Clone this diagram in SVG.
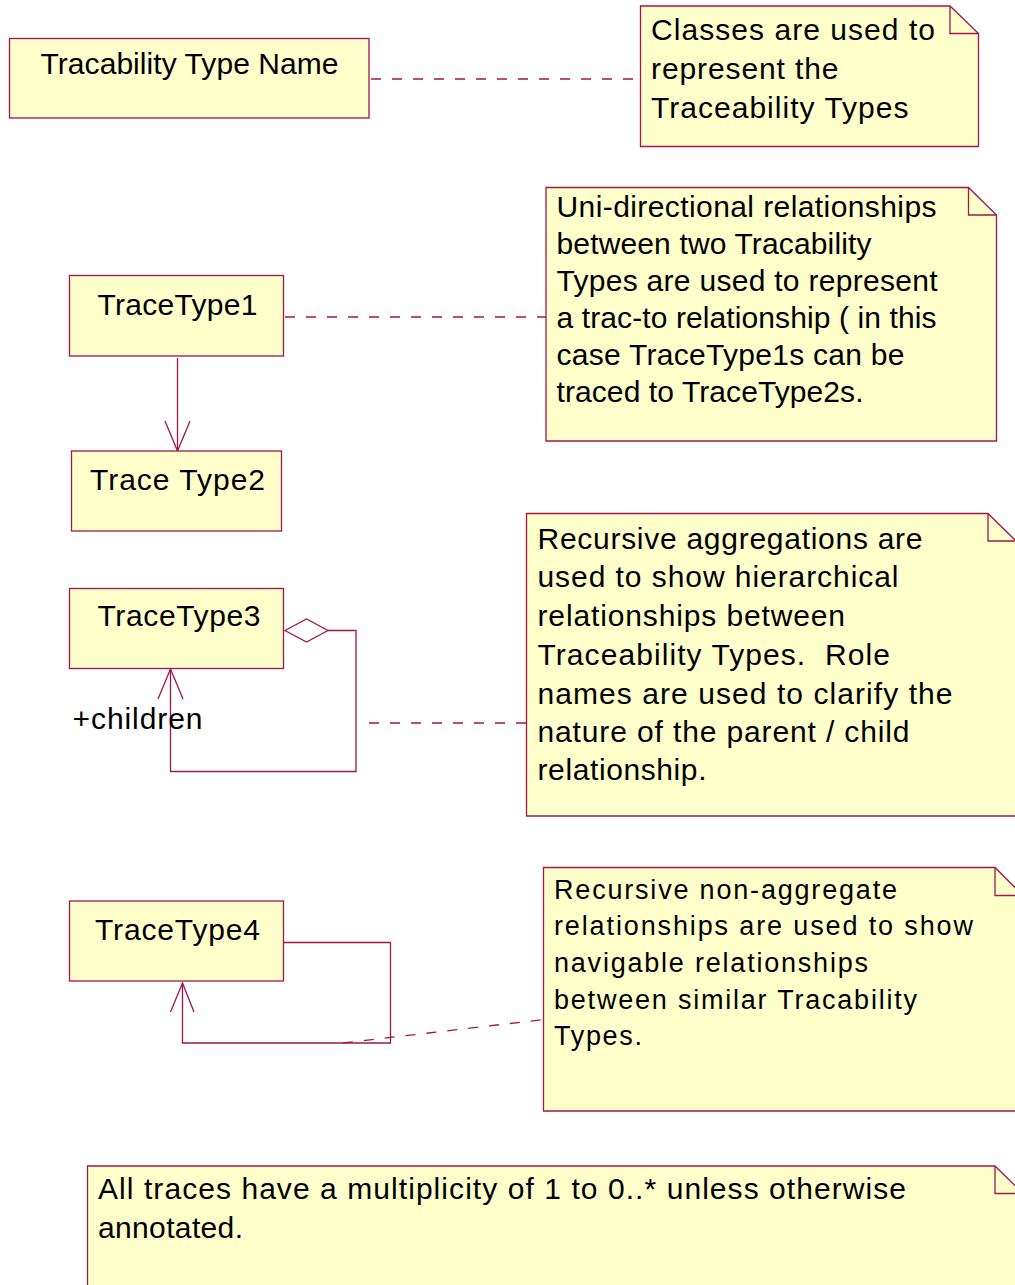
<svg xmlns="http://www.w3.org/2000/svg" width="1015" height="1285" viewBox="0 0 1015 1285">
<style>
.box{fill:#FFFFCC;stroke:#A3164B;stroke-width:1.3}
.fold{fill:none;stroke:#A3164B;stroke-width:1.3}
.t{font-family:"Liberation Sans",Arial,sans-serif;font-size:30px;fill:#000}
.s{font-size:27px}
.ln{fill:none;stroke:#A3164B;stroke-width:1.3}
.dash{fill:none;stroke:#A3164B;stroke-width:1.3;stroke-dasharray:10 11}
</style>
<rect width="1015" height="1285" fill="#FFFFFF"/>

<g id="connectors">
  <line class="dash" x1="371" y1="79" x2="640" y2="79"/>
  <line class="dash" x1="285" y1="317" x2="546" y2="317"/>
  <line class="dash" x1="526" y1="723" x2="360" y2="723"/>
  <line class="dash" x1="343" y1="1043" x2="544" y2="1019.5"/>
  <!-- TraceType1 -> TraceType2 -->
  <line class="ln" x1="177.5" y1="358" x2="177.5" y2="451"/>
  <polyline class="ln" points="165,421 177.5,451 190,421"/>
  <!-- TraceType3 recursive aggregation -->
  <polygon class="ln" fill="#FFFFFF" points="285,630.5 306.5,619 328,630.5 306.5,642"/>
  <polyline class="ln" points="328,630.5 356,630.5 356,771.5 170.5,771.5 170.5,669"/>
  <polyline class="ln" points="158,699 170.5,669 183,699"/>
  <!-- TraceType4 recursive association -->
  <polyline class="ln" points="284,942.5 390.5,942.5 390.5,1043 182.5,1043 182.5,983"/>
  <polyline class="ln" points="170.5,1012 182.5,983 194,1012"/>
</g>

<g id="tracability-type-name">
  <rect class="box" x="9.5" y="38.5" width="359.5" height="79.5"/>
  <text class="t" x="40.5" y="74" textLength="298" lengthAdjust="spacing">Tracability Type Name</text>
</g>

<g id="note-classes">
  <path class="box" d="M640.5,6 H950 L978.5,33.5 V146.5 H640.5 Z"/>
  <path class="fold" d="M950,6 V33.5 H978.5"/>
  <text class="t" x="651" y="40" textLength="284" lengthAdjust="spacing">Classes are used to</text>
  <text class="t" x="651" y="79" textLength="187.5" lengthAdjust="spacing">represent the</text>
  <text class="t" x="651" y="118" textLength="257.5" lengthAdjust="spacing">Traceability Types</text>
</g>

<g id="tracetype1">
  <rect class="box" x="69.5" y="275.5" width="214" height="80.5"/>
  <text class="t" x="97.5" y="315" textLength="160" lengthAdjust="spacing">TraceType1</text>
</g>

<g id="note-unidirectional">
  <path class="box" d="M546,187.5 H968.5 L996.5,215 V441 H546 Z"/>
  <path class="fold" d="M968.5,187.5 V215 H996.5"/>
  <text class="t" x="556.5" y="217" textLength="380" lengthAdjust="spacing">Uni-directional relationships</text>
  <text class="t" x="556.5" y="254" textLength="315" lengthAdjust="spacing">between two Tracability</text>
  <text class="t" x="556.5" y="291" textLength="381" lengthAdjust="spacing">Types are used to represent</text>
  <text class="t" x="556.5" y="328" textLength="380" lengthAdjust="spacing">a trac-to relationship ( in this</text>
  <text class="t" x="556.5" y="365" textLength="348" lengthAdjust="spacing">case TraceType1s can be</text>
  <text class="t" x="556.5" y="402" textLength="307" lengthAdjust="spacing">traced to TraceType2s.</text>
</g>

<g id="tracetype2">
  <rect class="box" x="71.5" y="451" width="210" height="80"/>
  <text class="t" x="90" y="490" textLength="175" lengthAdjust="spacing">Trace Type2</text>
</g>

<g id="tracetype3">
  <rect class="box" x="69.5" y="588.5" width="214" height="80"/>
  <text class="t" x="97.5" y="626" textLength="163" lengthAdjust="spacing">TraceType3</text>
  <text class="t" x="72.5" y="729" textLength="130" lengthAdjust="spacing">+children</text>
</g>

<g id="note-recursive-aggregation">
  <path class="box" d="M526.5,513.5 H988 L1016,541 V816 H526.5 Z"/>
  <path class="fold" d="M988,513.5 V541 H1016"/>
  <text class="t" x="537.5" y="548.5" textLength="385" lengthAdjust="spacing">Recursive aggregations are</text>
  <text class="t" x="537.5" y="587" textLength="361" lengthAdjust="spacing">used to show hierarchical</text>
  <text class="t" x="537.5" y="626" textLength="307.5" lengthAdjust="spacing">relationships between</text>
  <text class="t" x="537.5" y="665" textLength="352.5" lengthAdjust="spacing" xml:space="preserve">Traceability Types.  Role</text>
  <text class="t" x="537.5" y="703.5" textLength="415" lengthAdjust="spacing">names are used to clarify the</text>
  <text class="t" x="537.5" y="742" textLength="372" lengthAdjust="spacing">nature of the parent / child</text>
  <text class="t" x="537.5" y="780" textLength="169" lengthAdjust="spacing">relationship.</text>
</g>

<g id="tracetype4">
  <rect class="box" x="69.5" y="901" width="214" height="80"/>
  <text class="t" x="95" y="940" textLength="165" lengthAdjust="spacing">TraceType4</text>
</g>

<g id="note-recursive-nonaggregate">
  <path class="box" d="M543.5,867.5 H995 L1023,895.5 V1111 H543.5 Z"/>
  <path class="fold" d="M995,867.5 V895.5 H1023"/>
  <text class="t s" x="554" y="898.5" textLength="343" lengthAdjust="spacing">Recursive non-aggregate</text>
  <text class="t s" x="554" y="935" textLength="419" lengthAdjust="spacing">relationships are used to show</text>
  <text class="t s" x="554" y="972" textLength="314" lengthAdjust="spacing">navigable relationships</text>
  <text class="t s" x="554" y="1008.5" textLength="363" lengthAdjust="spacing">between similar Tracability</text>
  <text class="t s" x="554" y="1045" textLength="88" lengthAdjust="spacing">Types.</text>
</g>

<g id="note-multiplicity">
  <path class="box" d="M87.5,1166 H995 L1023,1193.5 V1300 H87.5 Z"/>
  <path class="fold" d="M995,1166 V1193.5 H1023"/>
  <text class="t" x="98" y="1199" textLength="808" lengthAdjust="spacing">All traces have a multiplicity of 1 to 0..* unless otherwise</text>
  <text class="t" x="98" y="1238" textLength="145" lengthAdjust="spacing">annotated.</text>
</g>
</svg>
